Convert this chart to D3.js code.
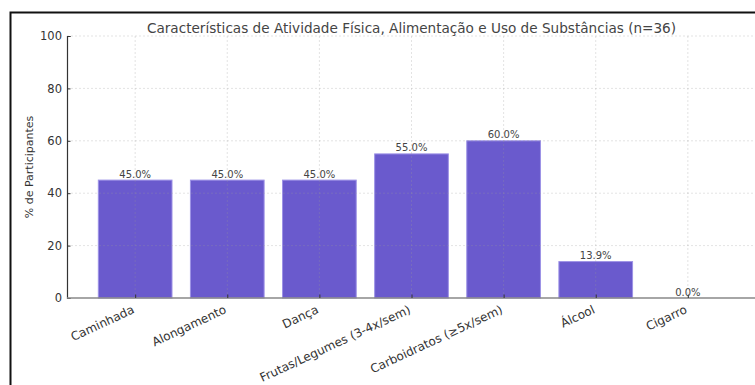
<!DOCTYPE html>
<html>
<head>
<meta charset="utf-8">
<script src="https://cdn.jsdelivr.net/npm/d3@7"></script>
<style>
  html, body { margin: 0; padding: 0; background: #fff; }
  svg { display: block; font-family: "DejaVu Sans", sans-serif; }
</style>
</head>
<body>
<svg id="chart" width="755" height="385"></svg>
<script>
// Participant characteristics: share (%) reporting each behaviour
const categories = [
  "Caminhada",
  "Alongamento",
  "Dança",
  "Frutas/Legumes (3-4x/sem)",
  "Carboidratos (≥5x/sem)",
  "Álcool",
  "Cigarro"
];
const percentages = [45.0, 45.0, 45.0, 55.0, 60.0, 13.9, 0.0];
const yTicks = [0, 20, 40, 60, 80, 100];
const titleText = "Características de Atividade Física, Alimentação e Uso de Substâncias (n=36)";
const yLabelText = "% de Participantes";

const W = 755, H = 385;
const plot = { left: 67, right: 756, top: 36, bottom: 298 };
const barWidth = 0.8;
const pad = 0.05 * (categories.length - 1 + barWidth);

const svg = d3.select("#chart");

// Outer frame
svg.append("path")
  .attr("d", `M10.5,${H} L10.5,12.5 L${W},12.5`)
  .attr("fill", "none")
  .attr("stroke", "#111")
  .attr("stroke-width", 2);

const x = d3.scaleLinear()
  .domain([-barWidth / 2 - pad, categories.length - 1 + barWidth / 2 + pad])
  .range([plot.left, plot.right]);
const y = d3.scaleLinear().domain([0, 100]).range([plot.bottom, plot.top]);

// Bars
svg.append("g").selectAll("rect")
  .data(percentages)
  .join("rect")
  .attr("x", (d, i) => x(i - barWidth / 2))
  .attr("width", (d, i) => x(i + barWidth / 2) - x(i - barWidth / 2))
  .attr("y", d => y(d))
  .attr("height", d => y(0) - y(d))
  .attr("fill", "#6a5acd")
  .attr("stroke", "#9d92e6")
  .attr("stroke-width", 1);

// Dashed grid
const grid = svg.append("g")
  .attr("stroke", "#9a9a9a")
  .attr("stroke-opacity", 0.35)
  .attr("stroke-width", 0.8)
  .attr("stroke-dasharray", "2,2");
grid.selectAll("line.h")
  .data(yTicks.filter(t => t > 0))
  .join("line")
  .attr("x1", plot.left).attr("x2", plot.right)
  .attr("y1", d => y(d)).attr("y2", d => y(d));
grid.selectAll("line.v")
  .data(categories.map((c, i) => i))
  .join("line")
  .attr("x1", d => x(d)).attr("x2", d => x(d))
  .attr("y1", plot.top).attr("y2", plot.bottom);

// Y axis
const yAxis = d3.axisLeft(y).tickValues(yTicks).tickSize(-3.5).tickPadding(5);
const gy = svg.append("g")
  .attr("transform", `translate(${plot.left},0)`)
  .call(yAxis);
gy.select(".domain").attr("stroke", "#333").attr("stroke-width", 1.2);
gy.selectAll(".tick line").attr("stroke", "#333");
gy.selectAll(".tick text")
  .attr("fill", "#333")
  .attr("font-size", "11.5px")
  .attr("font-family", "DejaVu Sans, sans-serif");

// X axis
const xAxis = d3.axisBottom(x)
  .tickValues(categories.map((c, i) => i))
  .tickSize(-3.5)
  .tickFormat(i => categories[i]);
const gx = svg.append("g")
  .attr("transform", `translate(0,${plot.bottom})`)
  .call(xAxis);
gx.select(".domain")
  .attr("d", `M${plot.left},0H${W}`)
  .attr("stroke", "#888")
  .attr("stroke-width", 1.6);
gx.selectAll(".tick line").attr("stroke", "#333");
gx.selectAll(".tick text")
  .attr("fill", "#333")
  .attr("font-size", "12px")
  .attr("font-family", "DejaVu Sans, sans-serif")
  .attr("text-anchor", "end")
  .attr("dy", null)
  .attr("y", null)
  .attr("transform", "translate(-0.5,14.5) rotate(-25)");

// Value labels
svg.append("g").selectAll("text")
  .data(percentages)
  .join("text")
  .attr("x", (d, i) => x(i))
  .attr("y", d => y(d) - 2.5)
  .attr("text-anchor", "middle")
  .attr("font-size", "10px")
  .attr("fill", "#444")
  .text(d => d.toFixed(1) + "%");

// Title
svg.append("text")
  .attr("x", (plot.left + plot.right) / 2)
  .attr("y", 32.5)
  .attr("text-anchor", "middle")
  .attr("font-size", "13.6px")
  .attr("fill", "#444")
  .text(titleText);

// Y axis label
svg.append("text")
  .attr("transform", `translate(33,${(plot.top + plot.bottom) / 2}) rotate(-90)`)
  .attr("text-anchor", "middle")
  .attr("font-size", "11px")
  .attr("fill", "#333")
  .text(yLabelText);
</script>
</body>
</html>
